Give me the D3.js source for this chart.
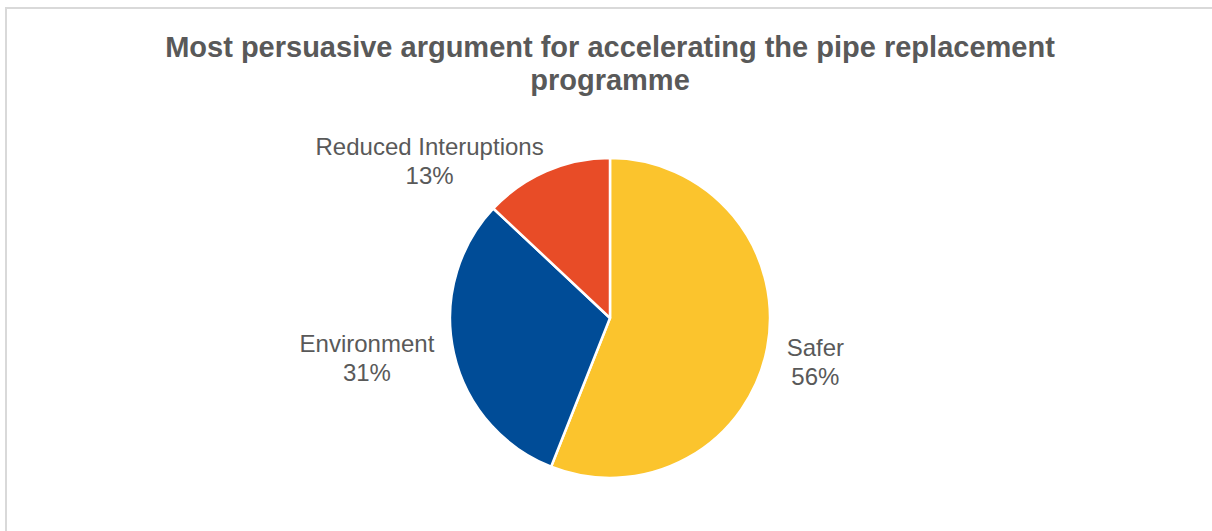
<!DOCTYPE html>
<html>
<head>
<meta charset="utf-8">
<script src="https://cdn.jsdelivr.net/npm/d3@7"></script>
<style>
  html, body { margin: 0; padding: 0; background: #fff; }
  svg { display: block; }
</style>
</head>
<body>
<svg id="chart" width="1212" height="531"></svg>
<script>
// Survey responses: most persuasive argument
const categories = ["Safer", "Environment", "Reduced Interuptions"];
const shares = [56, 31, 13];
const colors = ["#FBC42D", "#004C97", "#E84C27"];
const titleLines = ["Most persuasive argument for accelerating the pipe replacement", "programme"];

const svg = d3.select("#chart");
const W = 1212, H = 531;

// chart frame
svg.append("rect")
  .attr("x", 6).attr("y", 8)
  .attr("width", W + 10).attr("height", H + 10)
  .attr("fill", "#fff")
  .attr("stroke", "#d9d9d9")
  .attr("stroke-width", 2);

// title
svg.append("text")
  .attr("x", 610).attr("y", 57)
  .attr("text-anchor", "middle")
  .attr("font-family", "Liberation Sans, Arial, sans-serif")
  .attr("font-weight", "bold")
  .attr("font-size", 29)
  .attr("fill", "#595959")
  .selectAll("tspan")
  .data(titleLines)
  .join("tspan")
  .attr("x", 610)
  .attr("dy", (d, i) => i === 0 ? 0 : 33)
  .text(d => d);

const cx = 610, cy = 318, r = 160;
const data = categories.map((c, i) => ({ name: c, value: shares[i], color: colors[i] }));

const pie = d3.pie().value(d => d.value).sort(null);
const arc = d3.arc().innerRadius(0).outerRadius(r);
const arcs = pie(data);

const g = svg.append("g").attr("transform", `translate(${cx},${cy})`);
g.selectAll("path")
  .data(arcs)
  .join("path")
  .attr("d", arc)
  .attr("fill", d => d.data.color)
  .attr("stroke", "#fff")
  .attr("stroke-width", 2.5)
  .attr("stroke-linejoin", "round");

// outside labels: name and percentage, nudged off the label ring
const labelArc = d3.arc().innerRadius(r + 45).outerRadius(r + 45);
const labelOffsets = {
  "Safer": [4, 0],
  "Environment": [-43, -11],
  "Reduced Interuptions": [-99, 25]
};
const labels = g.selectAll("g.lbl")
  .data(arcs)
  .join("g")
  .attr("class", "lbl")
  .attr("transform", d => {
    const [x, y] = labelArc.centroid(d);
    const o = labelOffsets[d.data.name];
    return `translate(${x + o[0]},${y + o[1]})`;
  });

labels.append("text")
  .attr("text-anchor", "middle")
  .attr("font-family", "Liberation Sans, Arial, sans-serif")
  .attr("font-size", 24)
  .attr("fill", "#595959")
  .selectAll("tspan")
  .data(d => [d.data.name, d.data.value + "%"])
  .join("tspan")
  .attr("x", 0)
  .attr("dy", (d, i) => i === 0 ? 0 : 29)
  .text(d => d);
</script>
</body>
</html>
